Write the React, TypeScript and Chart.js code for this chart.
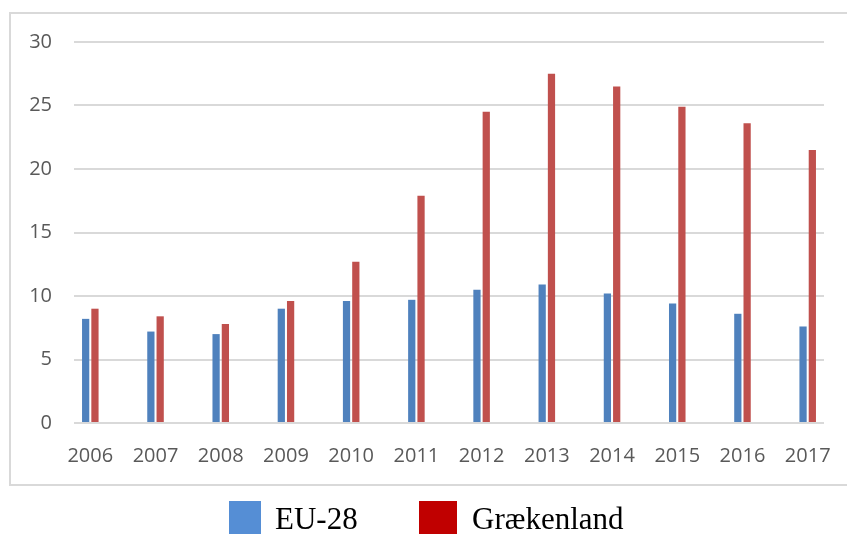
import React, { useEffect, useRef } from "react";
import { Chart, registerables } from "chart.js";

Chart.register(...registerables);

const years = [2006, 2007, 2008, 2009, 2010, 2011, 2012, 2013, 2014, 2015, 2016, 2017];
const euValues = [8.2, 7.2, 7.0, 9.0, 9.6, 9.7, 10.5, 10.9, 10.2, 9.4, 8.6, 7.6];
const greeceValues = [9.0, 8.4, 7.8, 9.6, 12.7, 17.9, 24.5, 27.5, 26.5, 24.9, 23.6, 21.5];
const seriesNames = ["EU-28", "Grækenland"];
const barColors = ["#4F81BD", "#C0504D"];
const legendColors = ["#558ED5", "#C00000"];
const yTickValues = [0, 5, 10, 15, 20, 25, 30];

const outerBorder = {
  id: "outerBorder",
  beforeDraw(chart: any) {
    const ctx = chart.ctx;
    const w = chart.width;
    ctx.save();
    ctx.strokeStyle = "#d9d9d9";
    ctx.lineWidth = 2;
    ctx.beginPath();
    ctx.moveTo(w + 5, 13);
    ctx.lineTo(10, 13);
    ctx.lineTo(10, 485);
    ctx.lineTo(w + 5, 485);
    ctx.stroke();
    ctx.restore();
  },
};

export default function App() {
  const canvasRef = useRef<HTMLCanvasElement | null>(null);

  useEffect(() => {
    if (!canvasRef.current) return;
    const toPoints = (vals: number[]) => years.map((yr, i) => ({ x: yr, y: vals[i] }));
    const chart = new Chart(canvasRef.current, {
      type: "bar",
      data: {
        datasets: [
          {
            label: seriesNames[0],
            data: toPoints(euValues),
            backgroundColor: barColors[0],
            categoryPercentage: 0.285,
            barPercentage: 0.78,
          },
          {
            label: seriesNames[1],
            data: toPoints(greeceValues),
            backgroundColor: barColors[1],
            categoryPercentage: 0.285,
            barPercentage: 0.78,
          },
        ],
      } as any,
      options: {
        responsive: false,
        animation: false,
        layout: { padding: { left: 0, right: 23, top: 42, bottom: 61 } },
        plugins: {
          legend: { display: false },
          tooltip: { enabled: false },
        },
        scales: {
          x: {
            type: "linear",
            min: years[0] - 0.25,
            max: years[years.length - 1] + 0.25,
            offset: false,
            grid: { display: false },
            border: { display: false },
            afterBuildTicks: (axis: any) => {
              axis.ticks = years.map((v) => ({ value: v }));
            },
            afterFit: (scale: any) => {
              scale.height = 50;
              scale.paddingLeft = 0;
              scale.paddingRight = 0;
            },
            ticks: {
              autoSkip: false,
              maxRotation: 0,
              padding: 13,
              color: "#595959",
              font: { family: "'Open Sans'", size: 20 },
              callback: (v: any) => String(v),
            },
          },
          y: {
            min: 0,
            max: 30,
            afterBuildTicks: (axis: any) => {
              axis.ticks = yTickValues.map((v) => ({ value: v }));
            },
            afterFit: (scale: any) => {
              scale.width = 74;
            },
            grid: { color: "#d9d9d9", lineWidth: 2, drawTicks: false },
            border: { display: false },
            ticks: {
              padding: 22,
              color: "#595959",
              font: { family: "'Open Sans'", size: 20 },
            },
          },
        },
      } as any,
      plugins: [outerBorder],
    });
    return () => chart.destroy();
  }, []);

  return (
    <div
      style={{
        position: "absolute",
        left: 0,
        top: 0,
        width: 847,
        height: 534,
        overflow: "hidden",
        background: "#ffffff",
      }}
    >
      <canvas ref={canvasRef} width={847} height={534} style={{ display: "block" }} />
      {seriesNames.map((name, i) => (
        <React.Fragment key={name}>
          <div
            style={{
              position: "absolute",
              left: i === 0 ? 229 : 419,
              top: 501,
              width: i === 0 ? 32 : 38,
              height: 40,
              background: legendColors[i],
            }}
          />
          <div
            style={{
              position: "absolute",
              left: i === 0 ? 275 : 472,
              top: 503,
              fontFamily: "'Liberation Serif', serif",
              fontSize: 31,
              lineHeight: "31px",
              color: "#000",
              whiteSpace: "nowrap",
            }}
          >
            {name}
          </div>
        </React.Fragment>
      ))}
    </div>
  );
}
